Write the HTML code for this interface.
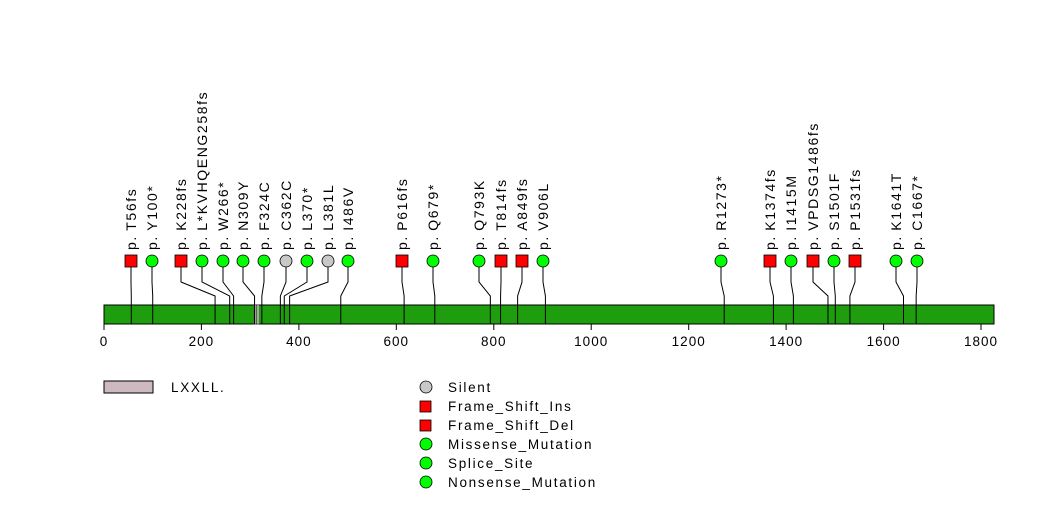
<!DOCTYPE html>
<html><head><meta charset="utf-8"><style>body{margin:0;background:#fff}svg{display:block}text{font-family:"Liberation Sans",sans-serif}</style></head><body>
<svg width="1047" height="524" viewBox="0 0 1047 524" xmlns="http://www.w3.org/2000/svg">
<rect x="104" y="305" width="890" height="19" fill="#1e9e0e" stroke="#000" stroke-width="1"/>
<rect x="254" y="305" width="2" height="19" fill="#cdb9bf" stroke="#555" stroke-width="0.5"/>
<rect x="257" y="305" width="2" height="19" fill="#cdb9bf" stroke="#555" stroke-width="0.5"/>
<g stroke="#000" stroke-width="1" fill="none" id="lines"></g>
<g id="marks"></g>
<g id="labels" font-size="14" letter-spacing="1.6"></g>
<g stroke="#000" stroke-width="1">
<line x1="104" y1="324" x2="104" y2="330"/><line x1="201.4" y1="324" x2="201.4" y2="330"/><line x1="298.9" y1="324" x2="298.9" y2="330"/><line x1="396.3" y1="324" x2="396.3" y2="330"/><line x1="493.8" y1="324" x2="493.8" y2="330"/><line x1="591.2" y1="324" x2="591.2" y2="330"/><line x1="688.7" y1="324" x2="688.7" y2="330"/><line x1="786.1" y1="324" x2="786.1" y2="330"/><line x1="883.6" y1="324" x2="883.6" y2="330"/><line x1="981" y1="324" x2="981" y2="330"/>
</g>
<g font-size="13.5" text-anchor="middle" fill="#000" letter-spacing="1">
<text x="104" y="346">0</text><text x="201.4" y="346">200</text><text x="298.9" y="346">400</text><text x="396.3" y="346">600</text><text x="493.8" y="346">800</text><text x="591.2" y="346">1000</text><text x="688.7" y="346">1200</text><text x="786.1" y="346">1400</text><text x="883.6" y="346">1600</text><text x="981" y="346">1800</text>
</g>
<rect x="104" y="381" width="49" height="12" fill="#cdb9bf" stroke="#000" stroke-width="1"/>
<g font-size="13.5" letter-spacing="1.7">
<text x="171" y="392">LXXLL.</text>
<circle cx="426" cy="387" r="6" fill="#c8c8c8" stroke="#000" stroke-width="0.8"/><text x="448" y="392">Silent</text>
<rect x="420" y="401" width="11" height="11" fill="#f00" stroke="#000" stroke-width="0.8"/><text x="448" y="411">Frame_Shift_Ins</text>
<rect x="420" y="420" width="11" height="11" fill="#f00" stroke="#000" stroke-width="0.8"/><text x="448" y="430">Frame_Shift_Del</text>
<circle cx="426" cy="444" r="6" fill="#0f0" stroke="#000" stroke-width="0.8"/><text x="448" y="449">Missense_Mutation</text>
<circle cx="426" cy="463" r="6" fill="#0f0" stroke="#000" stroke-width="0.8"/><text x="448" y="468">Splice_Site</text>
<circle cx="426" cy="482" r="6" fill="#0f0" stroke="#000" stroke-width="0.8"/><text x="448" y="487">Nonsense_Mutation</text>
</g>
<script>
var d=[[131,56,'s','T56fs'],[152,100,'g','Y100*'],[181,228,'s','K228fs'],[202,258,'g','L*KVHQENG258fs'],[223,266,'g','W266*'],[243,309,'g','N309Y'],[264,324,'g','F324C'],[286,362,'y','C362C'],[307,370,'g','L370*'],[328,381,'y','L381L'],[348,486,'g','I486V'],[402,616,'s','P616fs'],[433,679,'g','Q679*'],[479,793,'g','Q793K'],[501,814,'s','T814fs'],[522,849,'s','A849fs'],[543,906,'g','V906L'],[721,1273,'g','R1273*'],[770,1374,'s','K1374fs'],[791,1415,'g','I1415M'],[813,1486,'s','VPDSG1486fs'],[834,1501,'g','S1501F'],[855,1531,'s','P1531fs'],[896,1641,'g','K1641T'],[917,1667,'g','C1667*']];
var ns='http://www.w3.org/2000/svg',L=document.getElementById('lines'),M=document.getElementById('marks'),T=document.getElementById('labels');
d.forEach(function(e){var mx=e[0],px=104+e[1]*0.4872;
var p=document.createElementNS(ns,'polyline');p.setAttribute('points',mx+',261 '+mx+',282 '+px+',296 '+px+',324');L.appendChild(p);
var m;if(e[2]=='s'){m=document.createElementNS(ns,'rect');m.setAttribute('x',mx-6);m.setAttribute('y',255);m.setAttribute('width',12);m.setAttribute('height',12);m.setAttribute('fill','#f00');}
else{m=document.createElementNS(ns,'circle');m.setAttribute('cx',mx);m.setAttribute('cy',261);m.setAttribute('r',6);m.setAttribute('fill',e[2]=='g'?'#0f0':'#c8c8c8');}
m.setAttribute('stroke','#000');m.setAttribute('stroke-width','0.8');M.appendChild(m);
var t=document.createElementNS(ns,'text');t.setAttribute('transform','translate('+(mx+5)+',250) rotate(-90)');t.textContent='p.\u2009'+e[3];T.appendChild(t);});
</script>
</svg>
</body></html>
